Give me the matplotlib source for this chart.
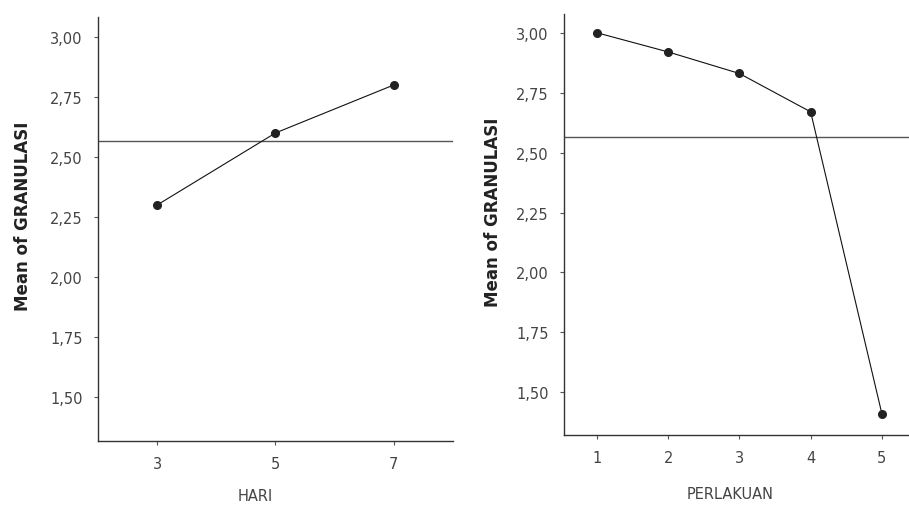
import matplotlib.pyplot as plt
from matplotlib.ticker import FuncFormatter

# Main effects data (means of GRANULASI)
hari = [3, 5, 7]
hari_mean = [2.30, 2.60, 2.80]

perlakuan = [1, 2, 3, 4, 5]
perlakuan_mean = [3.00, 2.92, 2.83, 2.67, 1.41]

y_ticks = [1.50, 1.75, 2.00, 2.25, 2.50, 2.75, 3.00]

plt.rcParams['font.family'] = ['DejaVu Sans']

fig = plt.figure(figsize=(9.09, 5.06), dpi=100)
ax1 = fig.add_axes([0.1078, 0.1265, 0.3905, 0.8379])
ax2 = fig.add_axes([0.6205, 0.1383, 0.3795, 0.8320])

comma = FuncFormatter(lambda v, p: f"{v:.2f}".replace('.', ','))


def style(ax, x, y, xlim, ylim, xlabel, xlab_xy, ylab_xy):
    ax.axhline(sum(y) / len(y), color='#555555', lw=1.0, zorder=1)
    ax.plot(x, y, color='#111111', lw=0.8, marker='o', ms=5.5,
            mfc='#222222', mec='#222222', zorder=3)
    ax.set_xlim(*xlim)
    ax.set_ylim(*ylim)
    ax.set_xticks(x)
    ax.set_yticks(y_ticks)
    ax.yaxis.set_major_formatter(comma)
    for s in ['top', 'right']:
        ax.spines[s].set_visible(False)
    for s in ['left', 'bottom']:
        ax.spines[s].set_color('#333333')
        ax.spines[s].set_linewidth(1.0)
    ax.tick_params(length=3, width=0.8, color='#555555', labelcolor='#444444',
                   labelsize=10.5, pad=8)
    ax.set_ylabel('Mean of GRANULASI', fontsize=12, fontweight='bold',
                  color='#222222')
    ax.yaxis.set_label_coords(*ylab_xy)
    ax.set_xlabel(xlabel, fontsize=10.5, color='#444444')
    ax.xaxis.set_label_coords(*xlab_xy)
    ax.patch.set_alpha(0)


style(ax1, hari, hari_mean, (2, 8), (1.317, 3.083), 'HARI',
      (0.442, -0.11), (-0.186, 0.533))
style(ax2, perlakuan, perlakuan_mean, (0.54, 5.38), (1.322, 3.078), 'PERLAKUAN',
      (0.481, -0.12), (-0.18, 0.532))

plt.savefig('out.png', dpi=100)
